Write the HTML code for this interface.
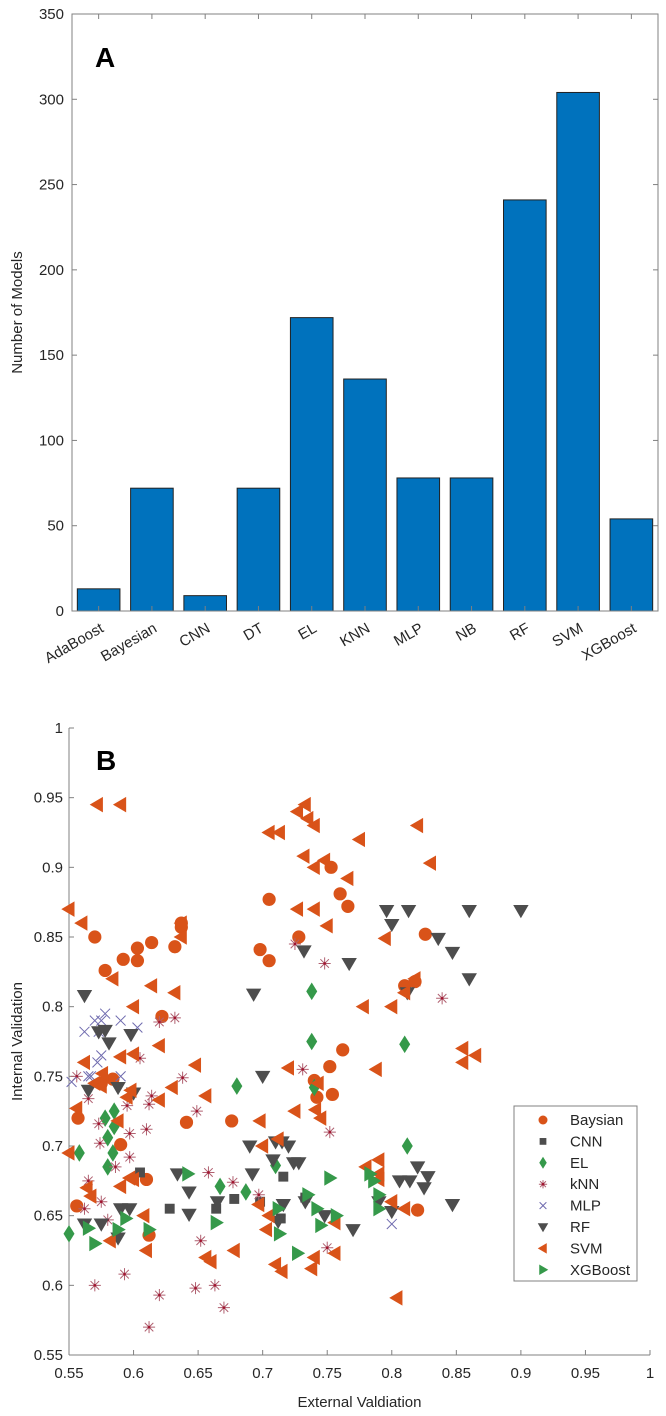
<!DOCTYPE html>
<html><head><meta charset="utf-8"><style>
html,body{margin:0;padding:0;background:#fff}
svg{display:block;font-family:"Liberation Sans",Arial,sans-serif}
</style></head><body>
<svg id="fig" width="666" height="1416" viewBox="0 0 666 1416" xmlns="http://www.w3.org/2000/svg">
<g id="chartA"></g>
<g id="chartB"></g>
</svg>
<script>
// ---- Panel A data ----
const catsA = ["AdaBoost","Bayesian","CNN","DT","EL","KNN","MLP","NB","RF","SVM","XGBoost"];
const countsA = [13,72,9,72,172,136,78,78,241,304,54];
const yTicksA = [0,50,100,150,200,250,300,350];

// ---- Panel B data ----
const xTicksB = [0.55,0.6,0.65,0.7,0.75,0.8,0.85,0.9,0.95,1];
const yTicksB = [0.55,0.6,0.65,0.7,0.75,0.8,0.85,0.9,0.95,1];
const seriesNames = ["Baysian","CNN","EL","kNN","MLP","RF","SVM","XGBoost"];
const baysianX = [0.57,0.578,0.592,0.603,0.603,0.614,0.632,0.637,0.637,0.622,0.59,0.557,0.556,0.612,0.641,0.676,0.61,0.698,0.705,0.705,0.728,0.753,0.76,0.766,0.74,0.742,0.752,0.754,0.762,0.826,0.81,0.818,0.82,0.584,0.575];
const baysianY = [0.85,0.826,0.834,0.842,0.833,0.846,0.843,0.857,0.86,0.793,0.701,0.72,0.657,0.636,0.717,0.718,0.676,0.841,0.877,0.833,0.85,0.9,0.881,0.872,0.747,0.735,0.757,0.737,0.769,0.852,0.815,0.818,0.654,0.748,0.745];
const cnnX = [0.605,0.628,0.664,0.678,0.698,0.716,0.733,0.714];
const cnnY = [0.681,0.655,0.655,0.662,0.66,0.678,0.663,0.648];
const elX = [0.55,0.558,0.578,0.58,0.585,0.584,0.58,0.68,0.667,0.687,0.71,0.74,0.738,0.738,0.81,0.812,0.585];
const elY = [0.637,0.695,0.72,0.706,0.725,0.695,0.685,0.743,0.671,0.667,0.686,0.742,0.811,0.775,0.773,0.7,0.714];
const knnX = [0.556,0.565,0.562,0.565,0.573,0.574,0.575,0.58,0.586,0.595,0.597,0.597,0.61,0.612,0.614,0.593,0.57,0.62,0.612,0.648,0.663,0.67,0.652,0.658,0.677,0.697,0.731,0.752,0.75,0.725,0.748,0.62,0.632,0.638,0.649,0.839,0.605];
const knnY = [0.75,0.734,0.655,0.675,0.716,0.702,0.66,0.647,0.685,0.729,0.709,0.692,0.712,0.73,0.736,0.608,0.6,0.593,0.57,0.598,0.6,0.584,0.632,0.681,0.674,0.665,0.755,0.71,0.627,0.845,0.831,0.789,0.792,0.749,0.725,0.806,0.763];
const mlpX = [0.552,0.567,0.562,0.57,0.575,0.578,0.573,0.59,0.575,0.572,0.603,0.59,0.8,0.565];
const mlpY = [0.746,0.75,0.782,0.79,0.79,0.795,0.782,0.79,0.765,0.76,0.785,0.75,0.644,0.75];
const rfX = [0.562,0.573,0.578,0.581,0.598,0.565,0.588,0.6,0.562,0.575,0.59,0.597,0.588,0.634,0.643,0.643,0.665,0.7,0.69,0.692,0.71,0.715,0.72,0.708,0.724,0.728,0.716,0.733,0.712,0.748,0.693,0.732,0.767,0.796,0.8,0.813,0.836,0.847,0.86,0.9,0.86,0.812,0.77,0.79,0.806,0.814,0.82,0.825,0.828,0.847,0.8];
const rfY = [0.808,0.782,0.783,0.774,0.78,0.74,0.742,0.738,0.644,0.644,0.655,0.655,0.634,0.68,0.667,0.651,0.66,0.75,0.7,0.68,0.703,0.703,0.7,0.69,0.688,0.688,0.658,0.66,0.646,0.65,0.809,0.84,0.831,0.869,0.859,0.869,0.849,0.839,0.869,0.869,0.82,0.81,0.64,0.66,0.675,0.675,0.685,0.67,0.678,0.658,0.653];
const svmX = [0.55,0.56,0.572,0.59,0.584,0.6,0.614,0.632,0.637,0.637,0.562,0.576,0.59,0.6,0.62,0.648,0.55,0.556,0.564,0.567,0.57,0.575,0.588,0.595,0.598,0.62,0.63,0.59,0.597,0.6,0.608,0.61,0.582,0.656,0.66,0.656,0.678,0.698,0.7,0.697,0.705,0.713,0.727,0.733,0.74,0.735,0.732,0.74,0.748,0.727,0.74,0.75,0.766,0.775,0.795,0.82,0.83,0.778,0.81,0.818,0.8,0.855,0.855,0.865,0.804,0.78,0.79,0.79,0.79,0.81,0.8,0.712,0.705,0.703,0.71,0.715,0.74,0.738,0.756,0.756,0.745,0.741,0.725,0.743,0.72,0.788];
const svmY = [0.87,0.86,0.945,0.945,0.82,0.8,0.815,0.81,0.86,0.85,0.76,0.752,0.764,0.766,0.772,0.758,0.695,0.727,0.67,0.664,0.745,0.743,0.718,0.735,0.74,0.733,0.742,0.671,0.677,0.676,0.65,0.625,0.632,0.62,0.617,0.736,0.625,0.718,0.7,0.658,0.925,0.925,0.94,0.945,0.93,0.935,0.908,0.9,0.905,0.87,0.87,0.858,0.892,0.92,0.849,0.93,0.903,0.8,0.81,0.82,0.8,0.77,0.76,0.765,0.591,0.685,0.69,0.68,0.676,0.655,0.66,0.705,0.65,0.64,0.615,0.61,0.62,0.612,0.623,0.645,0.72,0.726,0.725,0.745,0.756,0.755];
const xgbX = [0.565,0.57,0.588,0.594,0.612,0.642,0.664,0.712,0.713,0.727,0.735,0.742,0.745,0.757,0.752,0.783,0.786,0.79,0.79];
const xgbY = [0.641,0.63,0.64,0.648,0.64,0.68,0.645,0.655,0.637,0.623,0.665,0.655,0.643,0.65,0.677,0.68,0.675,0.665,0.655];

const NS="http://www.w3.org/2000/svg";
function mk(parent,tag,attrs,text){const e=document.createElementNS(NS,tag);for(const k in attrs)e.setAttribute(k,attrs[k]);if(text!==undefined)e.textContent=text;parent.appendChild(e);return e;}
const AX="#808080", TX="#262626";

// ===== Panel A =====
(function(){
 const g=document.getElementById('chartA');
 const L=72,R=658,T=14,B=611;
 const yA=v=>B-(v/350)*(B-T);
 const slot=(R-L)/catsA.length;
 const xA=i=>L+slot*(i+0.5);
 catsA.forEach((c,i)=>{
  const h=yA(0)-yA(countsA[i]);
  const r=mk(g,'rect',{x:xA(i)-slot*0.4,y:yA(countsA[i]),width:slot*0.8,height:h,fill:'#0072BD',stroke:'#222','stroke-width':1});
  
  
 });
 const box=mk(g,'rect',{x:L,y:T,width:R-L,height:B-T,fill:'none',stroke:AX,'stroke-width':1});
 
 
 yTicksA.forEach(v=>{
  const y=yA(v);
  mk(g,'line',{x1:L,x2:L+5,y1:y,y2:y,stroke:AX});
  mk(g,'line',{x1:R,x2:R-5,y1:y,y2:y,stroke:AX});
  const t=mk(g,'text',{x:L-8,y:y+5,'text-anchor':'end','font-size':15,fill:TX},String(v));
  
  
 });
 catsA.forEach((c,i)=>{
  const x=xA(i);
  mk(g,'line',{x1:x,x2:x,y1:B,y2:B-5,stroke:AX});
  mk(g,'line',{x1:x,x2:x,y1:T,y2:T+5,stroke:AX});
  const t=mk(g,'text',{x:x+6,y:B+20,'text-anchor':'end','font-size':15,fill:TX,transform:`rotate(-30 ${x+6} ${B+20})`},c);
  
  
 });
 const yl=mk(g,'text',{x:22,y:(T+B)/2,'text-anchor':'middle','font-size':15,fill:TX,transform:`rotate(-90 22 ${(T+B)/2})`},'Number of Models');
 
 
 const pl=mk(g,'text',{x:95,y:67,'font-size':28,'font-weight':'bold',fill:'#000'},'A');
 
 
})();

// ===== Panel B =====
const colors={Baysian:'#D95319',CNN:'#4D4D4D',EL:'#35994A',kNN:'#A2142F',MLP:'#6E6AAE',RF:'#4D4D4D',SVM:'#D95319',XGBoost:'#35994A'};
function marker(g,name,cx,cy,s){
 const c=colors[name];
 let e;
 if(name==='Baysian') e=mk(g,'circle',{cx,cy,r:6*s,fill:c});
 else if(name==='CNN') e=mk(g,'rect',{x:cx-4.5*s,y:cy-4.5*s,width:9*s,height:9*s,fill:c});
 else if(name==='EL') e=mk(g,'polygon',{points:`${cx},${cy-8*s} ${cx+5*s},${cy} ${cx},${cy+8*s} ${cx-5*s},${cy}`,fill:c});
 else if(name==='RF') e=mk(g,'polygon',{points:`${cx-7*s},${cy-5*s} ${cx+7*s},${cy-5*s} ${cx},${cy+7*s}`,fill:c});
 else if(name==='SVM') e=mk(g,'polygon',{points:`${cx+5*s},${cy-7*s} ${cx+5*s},${cy+7*s} ${cx-7*s},${cy}`,fill:c});
 else if(name==='XGBoost') e=mk(g,'polygon',{points:`${cx-5*s},${cy-7*s} ${cx-5*s},${cy+7*s} ${cx+7*s},${cy}`,fill:c});
 else if(name==='kNN'){
  const r=5.5*s,d=r*0.707;
  e=mk(g,'path',{d:`M${cx-r},${cy}H${cx+r}M${cx},${cy-r}V${cy+r}M${cx-d},${cy-d}L${cx+d},${cy+d}M${cx-d},${cy+d}L${cx+d},${cy-d}`,stroke:'#B06070','stroke-width':1,fill:'none'});
  mk(g,'circle',{cx,cy,r:1.3,fill:c});
 } else {
  const d=4.5*s;
  e=mk(g,'path',{d:`M${cx-d},${cy-d}L${cx+d},${cy+d}M${cx-d},${cy+d}L${cx+d},${cy-d}`,stroke:c,'stroke-width':1,fill:'none'});
 }
 return e;
}
(function(){
 const g=document.getElementById('chartB');
 const L=69,R=650,T=728,B=1355;
 const xB=v=>L+(v-0.55)/0.45*(R-L);
 const yB=v=>B-(v-0.55)/0.45*(B-T);
 mk(g,'line',{x1:L,x2:L,y1:T,y2:B,stroke:AX});
 mk(g,'line',{x1:L,x2:R,y1:B,y2:B,stroke:AX});
 yTicksB.forEach(v=>{
  const y=yB(v);
  mk(g,'line',{x1:L,x2:L+5,y1:y,y2:y,stroke:AX});
  const t=mk(g,'text',{x:L-6,y:y+5,'text-anchor':'end','font-size':15,fill:TX},String(v));
  
  
 });
 xTicksB.forEach(v=>{
  const x=xB(v);
  mk(g,'line',{x1:x,x2:x,y1:B,y2:B-5,stroke:AX});
  const t=mk(g,'text',{x:x,y:B+23,'text-anchor':'middle','font-size':15,fill:TX},String(v));
  
  
 });
 const data={Baysian:[baysianX,baysianY],CNN:[cnnX,cnnY],EL:[elX,elY],kNN:[knnX,knnY],MLP:[mlpX,mlpY],RF:[rfX,rfY],SVM:[svmX,svmY],XGBoost:[xgbX,xgbY]};
 seriesNames.forEach(n=>{
  const sg=mk(g,'g',{});
  
  
  const [xs,ys]=data[n];
  xs.forEach((xv,i)=>{
   const m=marker(sg,n,xB(xv),yB(ys[i]),1.1);
   
   
  });
 });
 const lg=mk(g,'g',{});
 
 
 mk(lg,'rect',{x:514,y:1106,width:123,height:175,fill:'#fff',stroke:AX});
 seriesNames.forEach((n,i)=>{
  const y=1120+i*21.4;
  const eg=mk(lg,'g',{});
  
  
  marker(eg,n,543,y,0.75);
  mk(eg,'text',{x:570,y:y+5,'font-size':15,fill:TX},n);
 });
 const yl=mk(g,'text',{x:22,y:(T+B)/2,'text-anchor':'middle','font-size':15,fill:TX,transform:`rotate(-90 22 ${(T+B)/2})`},'Internal Validation');
 
 
 const xl=mk(g,'text',{x:(L+R)/2,y:1407,'text-anchor':'middle','font-size':15,fill:TX},'External Valdiation');
 
 
 const pl=mk(g,'text',{x:96,y:770,'font-size':28,'font-weight':'bold',fill:'#000'},'B');
 
 
})();
</script>
</body></html>
